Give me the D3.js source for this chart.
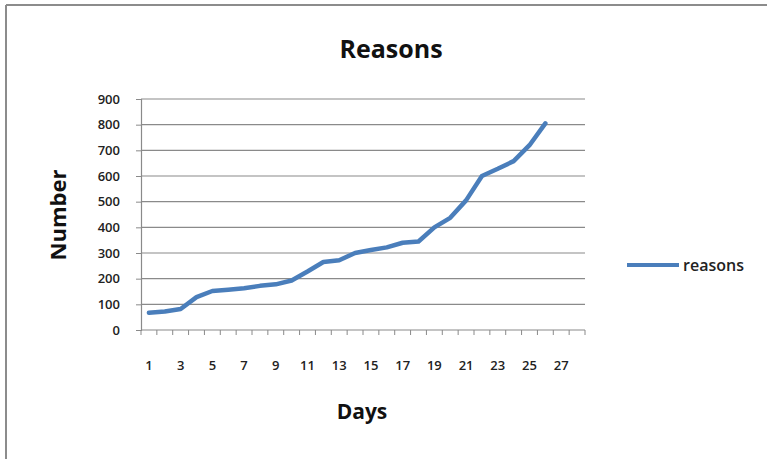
<!DOCTYPE html>
<html><head><meta charset="utf-8">
<script src="https://cdn.jsdelivr.net/npm/d3@7"></script>
<style>
html,body{margin:0;padding:0;background:#fff;}
svg{display:block;}
text{font-family:"Open Sans","Liberation Sans",sans-serif;}
</style></head>
<body>
<script>
const days = d3.range(1, 29);
const reasons = [67,72,82,128,152,157,163,172,178,193,228,265,272,300,312,322,340,345,400,437,505,600,628,658,720,805];
const yTicks = [0,100,200,300,400,500,600,700,800,900];
const xLabels = [1,3,5,7,9,11,13,15,17,19,21,23,25,27];
const seriesName = "reasons";

(function(){
const W = 767, H = 459;
const svg = d3.select("body").append("svg").attr("width", W).attr("height", H);

// frame
svg.append("line").attr("x1",6).attr("x2",W).attr("y1",5).attr("y2",5).attr("stroke","#8c8c8c").attr("stroke-width",2);
svg.append("line").attr("x1",6).attr("x2",6).attr("y1",5).attr("y2",H).attr("stroke","#8c8c8c").attr("stroke-width",2);

const pl = 141, pr = 585, pt = 99, pb = 330;
const x = d3.scaleBand().domain(days).range([pl, pr]);
const y = d3.scaleLinear().domain([0, 900]).range([pb, pt]);

// gridlines
svg.append("g").selectAll("line").data(yTicks.filter(d=>d>0)).join("line")
  .attr("x1", pl).attr("x2", pr)
  .attr("y1", d=>y(d)).attr("y2", d=>y(d))
  .attr("stroke","#8a8a8a").attr("stroke-width",1.2);

// y axis
const yAxis = d3.axisLeft(y).tickValues(yTicks).tickSize(5).tickPadding(16);
const gy = svg.append("g").attr("transform",`translate(${pl},0)`).call(yAxis);
gy.select(".domain").attr("stroke","#8a8a8a").attr("stroke-width",1.2);
gy.selectAll(".tick line").attr("stroke","#8a8a8a");
gy.selectAll("text").attr("font-size",13).attr("font-weight",600).attr("fill","#222")
  .style("font-family","'Open Sans',sans-serif");

// x axis: ticks at category boundaries
const boundaries = days.map(d=>x(d)).concat([pr]);
const gx = svg.append("g");
gx.append("line").attr("x1",pl).attr("x2",pr).attr("y1",pb).attr("y2",pb)
  .attr("stroke","#8a8a8a").attr("stroke-width",1.2);
gx.selectAll("line.t").data(boundaries).join("line").attr("class","t")
  .attr("x1",d=>d).attr("x2",d=>d).attr("y1",pb).attr("y2",pb+5)
  .attr("stroke","#8a8a8a");
gx.selectAll("text").data(xLabels).join("text")
  .attr("x", d=>x(d)+x.bandwidth()/2).attr("y", pb+40)
  .attr("text-anchor","middle").attr("font-size",13).attr("font-weight",600).attr("fill","#222")
  .text(d=>d);

// line
const line = d3.line().x((d,i)=>x(days[i])+x.bandwidth()/2).y(d=>y(d));
svg.append("path").datum(reasons).attr("d", line)
  .attr("fill","none").attr("stroke","#4a7ebb").attr("stroke-width",4.5)
  .attr("stroke-linejoin","round").attr("stroke-linecap","round");

// titles
svg.append("text").attr("x",391).attr("y",58).attr("text-anchor","middle")
  .attr("font-size",25).attr("font-weight","bold").attr("fill","#111").text("Reasons");
svg.append("text").attr("x",362).attr("y",419).attr("text-anchor","middle")
  .attr("font-size",21).attr("font-weight","bold").attr("fill","#111").text("Days");
svg.append("text").attr("transform","translate(66,215) rotate(-90)").attr("text-anchor","middle")
  .attr("font-size",22).attr("font-weight","bold").attr("fill","#111").text("Number");

// legend
svg.append("line").attr("x1",627).attr("x2",679).attr("y1",265).attr("y2",265)
  .attr("stroke","#4a7ebb").attr("stroke-width",4);
svg.append("text").attr("x",683).attr("y",271).attr("font-size",16).attr("font-weight",600)
  .attr("fill","#222").text(seriesName);
})();
</script>
</body></html>
